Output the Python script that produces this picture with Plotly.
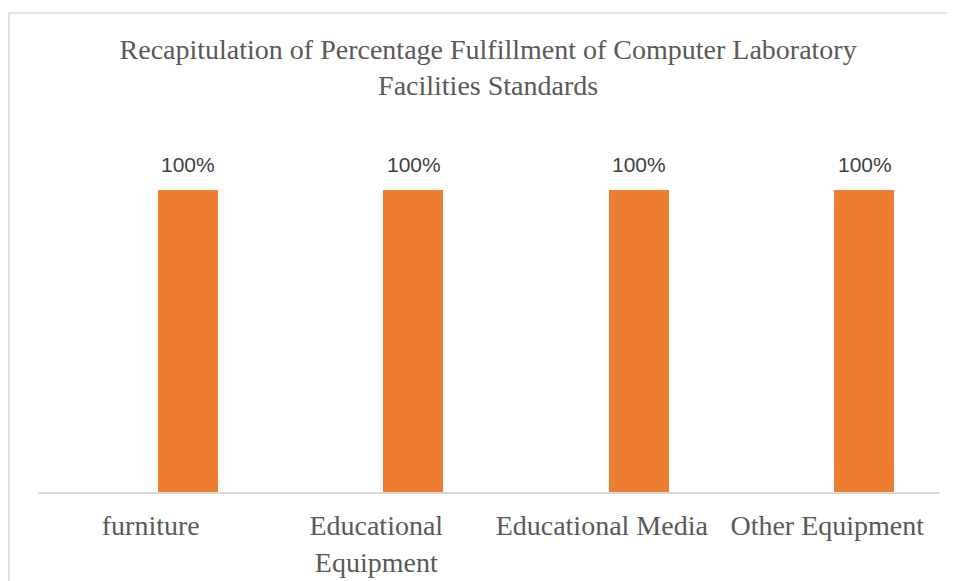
import plotly.graph_objects as go

categories = ["furniture", "Educational<br>Equipment", "Educational Media", "Other Equipment"]
fulfillment = [1.0, 1.0, 1.0, 1.0]
labels = ["100%", "100%", "100%", "100%"]

serif = "Liberation Serif"
grey = "#595959"

fig = go.Figure()
fig.add_trace(go.Bar(
    x=categories,
    y=fulfillment,
    marker=dict(color="#ED7D31", line=dict(width=0)),
    width=0.266,
    offset=0.032,
    showlegend=False,
))

# data labels sit a bit higher than plotly's "outside" text would
for cat, val, lab in zip(categories, fulfillment, labels):
    fig.add_annotation(
        x=cat, y=val, text=lab, showarrow=False,
        xshift=37.5, yshift=12, yanchor="bottom",
        font=dict(family="Liberation Sans", size=21, color="#404040"),
    )

fig.update_layout(
    width=947,
    height=573,
    margin=dict(l=30, r=15, t=122, b=89),
    paper_bgcolor="white",
    plot_bgcolor="white",
    title=dict(
        text="Recapitulation of Percentage Fulfillment of Computer Laboratory<br>Facilities Standards",
        x=0.507,
        xanchor="center",
        y=0.911,
        yanchor="top",
        font=dict(family=serif, size=28, color=grey),
    ),
    xaxis=dict(
        type="category",
        range=[-0.5, 3.5],
        automargin=False,
        showline=True,
        linecolor="#d9d9d9",
        linewidth=1.5,
        ticks="",
        ticklabelstandoff=8,
        showgrid=False,
        tickfont=dict(family=serif, size=28, color=grey),
    ),
    yaxis=dict(
        range=[0, 1.2],
        visible=False,
        showgrid=False,
    ),
    shapes=[dict(
        type="rect", xref="paper", yref="paper",
        x0=-0.0322, x1=1.2, y0=-0.6, y1=1.323,
        line=dict(color="#d9d9d9", width=1.5),
    )],
    bargap=0,
)

fig.write_html("out.html")
